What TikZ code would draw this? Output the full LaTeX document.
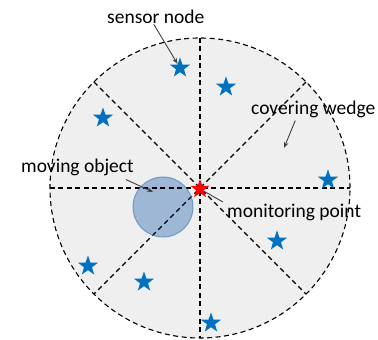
\documentclass[tikz,border=0pt]{standalone}
\usepackage{fontspec}
\setmainfont{Carlito}
\usetikzlibrary{shapes.geometric,arrows.meta}
\definecolor{areagrey}{HTML}{EFEFEF}
\definecolor{sensorblue}{HTML}{0070C0}
\definecolor{objblue}{HTML}{4F81BD}
\definecolor{pointgrey}{HTML}{404040}
\begin{document}
\begin{tikzpicture}[x=1pt,y=1pt,
    wedgeline/.style={dash pattern=on 5pt off 3.5pt, line width=1.1pt},
    sensorstar/.style={star, star points=5, star point ratio=2.5, fill=sensorblue, minimum size=21pt, inner sep=0pt},
    lbl/.style={anchor=base west, inner sep=0pt, font=\fontsize{19.5}{22}\selectfont},
    pointer/.style={draw=pointgrey, line width=0.9pt, -{Stealth[length=6pt,width=4.5pt]}}]
    \useasboundingbox (-200,-152) rectangle (178,188);
    \fill[areagrey] (0,0) circle (150);   %area
    \fill[objblue, fill opacity=0.5] (-37,-19) circle (30);   %object
    \draw[wedgeline] (-150,0) -- (150,0);   %wedges
    \draw[wedgeline] (0,150) -- (0,-150);
    \draw[wedgeline] (135:150) -- (-45:150);
    \draw[wedgeline] (45:150) -- (-135:150);
    \draw[wedgeline] (0,0) circle (150);
    \node[circle, draw=objblue, draw opacity=0.7, line width=1pt, minimum size=60pt, inner sep=0pt] (obj) at (-37,-19) {};
    % sensor nodes
    \node[sensorstar] (s1) at (-20,120) {};
    \node[sensorstar] (s2) at (26,101) {};
    \node[sensorstar] (s3) at (-97,70) {};
    \node[sensorstar] (s4) at (128,8) {};
    \node[sensorstar] (s5) at (77,-53) {};
    \node[sensorstar] (s6) at (-112,-78) {};
    \node[sensorstar] (s7) at (-56,-94) {};
    \node[sensorstar] (s8) at (11,-135) {};
    \node[sensorstar, fill=red, minimum size=20pt] (mp) at (0,-1) {};   %monitoring point
    % labels
    \node[lbl] (sensortxt) at (-93,164) {sensor node};
    \node[lbl] (wedgetxt) at (51,73) {covering wedge};
    \node[lbl] (objtxt) at (-179,15) {moving object};
    \node[lbl] (montxt) at (27,-30) {monitoring point};
    \coordinate (wedgept) at (84,40);
    \coordinate (objpt) at (-47,-4);
    \coordinate (monend) at (23,-14);
    \draw[pointer] ([xshift=-2pt]sensortxt.south) -- (s1);
    \draw[pointer] ([xshift=-18pt,yshift=-2pt]wedgetxt.south) -- (wedgept);
    \draw[pointer] ([xshift=-8pt,yshift=-3pt]objtxt.south east) -- (objpt);
    \draw[draw=pointgrey, line width=0.9pt] (mp) -- (monend);
\end{tikzpicture}
\end{document}
